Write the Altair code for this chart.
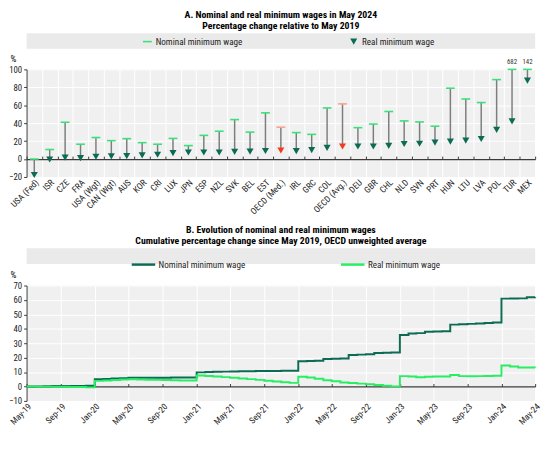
import altair as alt
import pandas as pd

FONT = "Liberation Sans Narrow, Arial Narrow, Roboto Condensed, sans-serif"

# ---------------- Panel A data ----------------
countries = ["USA (Fed)", "ISR", "CZE", "FRA", "USA (Wgt)", "CAN (Wgt)", "AUS", "KOR", "CRI",
             "LUX", "JPN", "ESP", "NZL", "SVK", "BEL", "EST", "OECD (Med.)", "IRL", "GRC",
             "COL", "OECD (Avg.)", "DEU", "GBR", "CHL", "NLD", "SVN", "PRT", "HUN", "LTU",
             "LVA", "POL", "TUR", "MEX"]
nominal = [0, 10.6, 41, 16.5, 24, 20.5, 22.7, 18.3, 16.5, 23, 15, 26.4, 31, 44, 30, 51.5,
           35.5, 29.5, 27.5, 57, 61.5, 35, 39, 53, 42.5, 41.4, 36.6, 79, 67, 63, 88.6, 682, 142]
real = [-17.8, -0.5, 1.5, 1, 2.5, 3, 3.3, 4, 4.8, 6.5, 7.3, 7.3, 7.3, 8, 8.2, 9,
        9.5, 8.8, 10, 12.5, 14, 14, 14, 14.6, 16.8, 17, 18.3, 19.4, 20.5, 22.3, 32.6, 42, 87.5]
highlight = ["OECD (Med.)", "OECD (Avg.)"]
cap = 100

# ---------------- Panel B data ----------------
months = pd.date_range("2019-05-01", "2024-05-01", freq="MS").strftime("%Y-%m-%d").tolist()
nominal_avg = [0, 0.1, 0.2, 0.3, 0.3, 0.4, 0.4, 0.5,
               5.0, 5.2, 5.5, 5.8, 6.0, 6.0, 6.1, 6.1, 6.1, 6.2, 6.2, 6.3,
               9.8, 10.0, 10.2, 10.3, 10.4, 10.5, 10.6, 10.7, 10.8, 10.8, 10.9, 10.9,
               17.5, 17.7, 17.9, 19.0, 19.2, 19.4, 21.9, 22.1, 22.3, 23.2, 23.4, 23.6,
               35.7, 36.8, 37.0, 37.9, 38.1, 38.3, 42.9, 43.1, 43.4, 43.7, 44.0, 44.3,
               60.9, 61.0, 61.1, 61.8, 61.9]
real_avg = [0, -0.1, -0.1, -0.2, -0.2, -0.3, -0.4, -0.6,
            3.9, 4.1, 4.5, 4.9, 5.0, 4.8, 4.7, 4.6, 4.5, 4.4, 4.2, 4.1,
            7.6, 7.3, 6.9, 6.5, 6.1, 5.6, 5.1, 4.6, 4.0, 3.5, 3.0, 2.5,
            6.8, 6.2, 5.3, 4.3, 3.6, 2.8, 2.4, 2.0, 1.6, 1.0, 0.5, 0.1,
            7.2, 6.9, 6.4, 6.8, 6.9, 7.0, 8.0, 7.2, 7.1, 7.2, 7.3, 7.5,
            14.6, 13.9, 13.2, 13.2, 13.1]
tick_months = months[::4]

NOM = "Nominal minimum wage"
REAL = "Real minimum wage"

GREEN = "#38e27a"
DARK = "#0c6b53"
SALMON = "#f7a48d"
RED = "#f23a1d"
LIME = "#27ee63"
GRAYLINE = "#7d7d7d"
BG = "#f0f0f0"
BOX = "#eaeaea"
AXC = "#3a3a3a"
NOMPATH = "M-1,-0.18L1,-0.18L1,0.18L-1,0.18Z"
TRIPATH = "M-0.8,-0.7L0.8,-0.7L0,0.7Z"

W = 520

# ---------------- Panel A ----------------
HA = 110
zeroA = HA * 100 / 120
dfA = pd.DataFrame({"country": countries, "nominal": nominal, "real": real})
dfA["nom_plot"] = dfA["nominal"].clip(upper=cap)
dfA["label"] = [str(int(v)) if v > cap else "" for v in nominal]
dfA["hl"] = dfA["country"].isin(highlight)
longA = pd.concat([
    pd.DataFrame({"country": countries, "series": NOM, "value": dfA["nom_plot"], "hl": dfA["hl"]}),
    pd.DataFrame({"country": countries, "series": REAL, "value": real, "hl": dfA["hl"]}),
], ignore_index=True)

xA_scale = alt.Scale(type="band", domain=countries, paddingInner=0, paddingOuter=0)


def yA(field):
    return alt.Y(field, type="quantitative",
                 scale=alt.Scale(domain=[-20, 100], nice=False, zero=False),
                 axis=alt.Axis(values=list(range(-20, 101, 20)), title="%", titleAngle=0,
                               titleAlign="left", titleBaseline="bottom", titleX=-17, titleY=-6,
                               titleFont=FONT, titleFontSize=9.5, titleFontWeight="normal",
                               grid=True, gridColor="white", gridWidth=1,
                               domainColor=AXC, tickColor=AXC, tickSize=3, labelPadding=2))


def xA(axis):
    return alt.X("country:N", sort=countries, scale=xA_scale, axis=axis)


boxA = alt.Chart(pd.DataFrame({"k": [0]})).mark_rect(color=BOX).encode(
    x=alt.value(0), x2=alt.value(W), y=alt.value(-37), y2=alt.value(-21))

rulesA = alt.Chart(dfA).mark_rule(color=GRAYLINE, strokeWidth=1.5).encode(
    x=xA(alt.Axis(orient="top", offset=-zeroA, labels=False, domain=True, domainColor=AXC,
                  domainWidth=1.3, ticks=True, tickBand="extent", tickColor=AXC, tickSize=3,
                  grid=True, gridColor="white", gridWidth=1, title=None)),
    y=yA("nom_plot"),
    y2="real:Q",
)

legA = alt.Legend(title=None, orient="none", legendX=118, legendY=-34, direction="horizontal",
                  columnPadding=108, labelFont=FONT, labelFontSize=9.3, labelColor="#222",
                  symbolSize=81, padding=0, labelOffset=3)

ptsA = alt.Chart(longA[~longA["hl"]]).mark_point(filled=True, size=81, opacity=1).encode(
    x=xA(alt.Axis(orient="bottom", labelAngle=-45, domain=False, ticks=False, grid=False,
                  title=None, labelPadding=1, labelFontSize=9)),
    y=yA("value"),
    color=alt.Color("series:N", scale=alt.Scale(domain=[NOM, REAL], range=[GREEN, DARK]), legend=legA),
    shape=alt.Shape("series:N", scale=alt.Scale(domain=[NOM, REAL], range=[NOMPATH, TRIPATH]), legend=legA),
)

hlNom = alt.Chart(dfA[dfA["hl"]]).mark_point(filled=True, size=81, opacity=1, shape=NOMPATH,
                                             color=SALMON).encode(x=xA(None), y=yA("nom_plot"))
hlReal = alt.Chart(dfA[dfA["hl"]]).mark_point(filled=True, size=81, opacity=1, shape=TRIPATH,
                                              color=RED).encode(x=xA(None), y=yA("real"))

labA = alt.Chart(dfA[dfA["label"] != ""]).mark_text(dy=-7, fontSize=7, font=FONT, color="#333").encode(
    x=xA(None), y=yA("nom_plot"), text="label:N")

titleA = alt.TitleParams(["A. Nominal and real minimum wages in May 2024",
                          "Percentage change relative to May 2019"],
                         frame="group", anchor="middle", offset=2, font=FONT, fontSize=10,
                         fontWeight="bold", lineHeight=11.5, color="black")

chartA = alt.layer(boxA, rulesA, ptsA, hlNom, hlReal, labA).resolve_axis(x="independent").properties(
    width=W, height=HA, title=titleA)

# ---------------- Panel B ----------------
HB = 118
zeroB = HB * 70 / 80
dfB = pd.concat([
    pd.DataFrame({"month": months, "series": NOM, "value": nominal_avg}),
    pd.DataFrame({"month": months, "series": REAL, "value": real_avg}),
], ignore_index=True)
tick_ts = [int(pd.Timestamp(m).value // 10**6) for m in tick_months]

xB_scale = alt.Scale(type="utc", domain=[alt.DateTime(year=2019, month=5, date=1, utc=True),
                                         alt.DateTime(year=2024, month=5, date=1, utc=True)])


def xB(axis):
    return alt.X("month:T", scale=xB_scale, axis=axis)


yB = alt.Y("value:Q", scale=alt.Scale(domain=[-10, 70], nice=False, zero=False),
           axis=alt.Axis(values=list(range(-10, 71, 10)), title="%", titleAngle=0,
                         titleAlign="left", titleBaseline="bottom", titleX=-17, titleY=-6,
                         titleFont=FONT, titleFontSize=9.5, titleFontWeight="normal",
                         grid=True, gridColor="white", gridWidth=1,
                         domainColor=AXC, tickColor=AXC, tickSize=3, labelPadding=2))

legB = alt.Legend(title=None, orient="none", legendX=106, legendY=-35, direction="horizontal",
                  columnPadding=92, labelFont=FONT, labelFontSize=9.3, labelColor="#222",
                  symbolType="stroke", symbolSize=576, symbolStrokeWidth=2.5, padding=0, labelOffset=2)
colB = alt.Color("series:N", scale=alt.Scale(domain=[NOM, REAL], range=[DARK, LIME]), legend=legB)

boxB = alt.Chart(pd.DataFrame({"k": [0]})).mark_rect(color=BOX).encode(
    x=alt.value(0), x2=alt.value(W), y=alt.value(-38), y2=alt.value(-22))

lineNom = alt.Chart(dfB[dfB["series"] == NOM]).mark_line(interpolate="step-after", strokeWidth=2).encode(
    x=xB(alt.Axis(orient="top", offset=-zeroB, labels=False, domain=True, domainColor=AXC,
                  domainWidth=1.3, ticks=True, tickColor=AXC, tickSize=3, values=tick_ts,
                  grid=True, gridColor="white", gridWidth=1, title=None)),
    y=yB, color=colB)

lineReal = alt.Chart(dfB[dfB["series"] == REAL]).mark_line(interpolate="step-after", strokeWidth=2).encode(
    x=xB(alt.Axis(orient="bottom", labelAngle=-45, domain=False, ticks=False, grid=False,
                  values=tick_ts, format="%b-%y", title=None, labelPadding=1, labelFontSize=9)),
    y=yB, color=colB)

titleB = alt.TitleParams(["B. Evolution of nominal and real minimum wages",
                          "Cumulative percentage change since May 2019, OECD unweighted average"],
                         frame="group", anchor="middle", offset=2, font=FONT, fontSize=10,
                         fontWeight="bold", lineHeight=11.5, color="black")

chartB = alt.layer(boxB, lineNom, lineReal).resolve_axis(x="independent").properties(
    width=W, height=HB, title=titleB)

chart = alt.vconcat(chartA, chartB, spacing=9).resolve_scale(
    color="independent", shape="independent").resolve_legend(
    color="independent", shape="independent").configure_view(
    fill=BG, stroke=None).configure_axis(
    labelFont=FONT, labelFontSize=9, labelColor="#222").properties(
    padding={"top": -3, "left": 0, "right": 0, "bottom": 0})

chart.save("out.html", embed_options={"renderer": "svg", "actions": False})
